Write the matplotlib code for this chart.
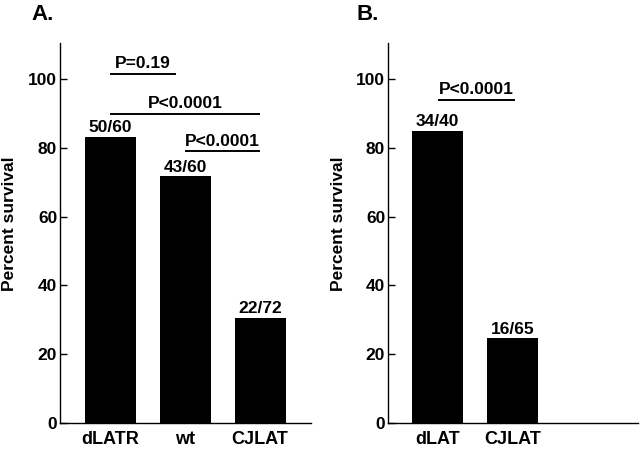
import matplotlib
matplotlib.use("Agg")
import matplotlib.pyplot as plt

plt.rcParams['font.family'] = ['Liberation Sans', 'DejaVu Sans']
plt.rcParams['font.weight'] = 'bold'

cats_a = ["dLATR", "wt", "CJLAT"]
vals_a = [83.3, 71.7, 30.6]
labels_a = ["50/60", "43/60", "22/72"]

cats_b = ["dLAT", "CJLAT"]
vals_b = [85.0, 24.6]
labels_b = ["34/40", "16/65"]

brackets_a = [("P=0.19", 0, 0.88, 101.5), ("P<0.0001", 0, 2, 89.8), ("P<0.0001", 1, 2, 79.0)]
brackets_b = [("P<0.0001", 0, 1.03, 94.0)]

fig = plt.figure(figsize=(6.44, 4.5), dpi=100)
axA = fig.add_axes([60/644, 1-423/450, 251/644, 380/450])
axB = fig.add_axes([388/644, 1-423/450, 250/644, 380/450])

def draw(ax, cats, vals, labels, brackets, letter, lx):
    x = list(range(len(cats)))
    ax.bar(x, vals, width=0.68, color='black')
    for xi, v, l in zip(x, vals, labels):
        ax.text(xi, v + 0.5, l, ha='center', va='bottom', fontsize=12.5, fontweight='bold')
    for t, x0, x1, y in brackets:
        ax.plot([x0, x1], [y, y], color='black', lw=1.4, solid_capstyle='butt')
        ax.text((x0 + x1) / 2, y + 0.8, t, ha='center', va='bottom', fontsize=12.5, fontweight='bold')
    ax.set_xlim(-0.667, 2.68)
    ax.set_ylim(0, 110.5)
    ax.set_yticks([0, 20, 40, 60, 80, 100])
    ax.set_xticks(x)
    ax.set_xticklabels(cats, fontsize=13, fontweight='bold')
    ax.tick_params(axis='x', length=0, pad=6)
    ax.tick_params(axis='y', direction='in', length=5, width=1, labelsize=12.5, pad=2)
    for lab in ax.get_yticklabels():
        lab.set_fontweight('bold')
    ax.spines['top'].set_visible(False)
    ax.spines['right'].set_visible(False)
    ax.spines['left'].set_linewidth(1)
    ax.spines['bottom'].set_linewidth(1)
    ax.set_ylabel("Percent survival", fontsize=12.5, fontweight='bold')
    fig.text(lx, 1 - 15/450, letter, fontsize=16, fontweight='bold', ha='left', va='center')

draw(axA, cats_a, vals_a, labels_a, brackets_a, "A.", 31/644)
draw(axB, cats_b, vals_b, labels_b, brackets_b, "B.", 356/644)
axA.yaxis.set_label_coords(-43/251, 0.524)
axB.yaxis.set_label_coords(-42/250, 0.524)

fig.savefig("out.png", dpi=100)
